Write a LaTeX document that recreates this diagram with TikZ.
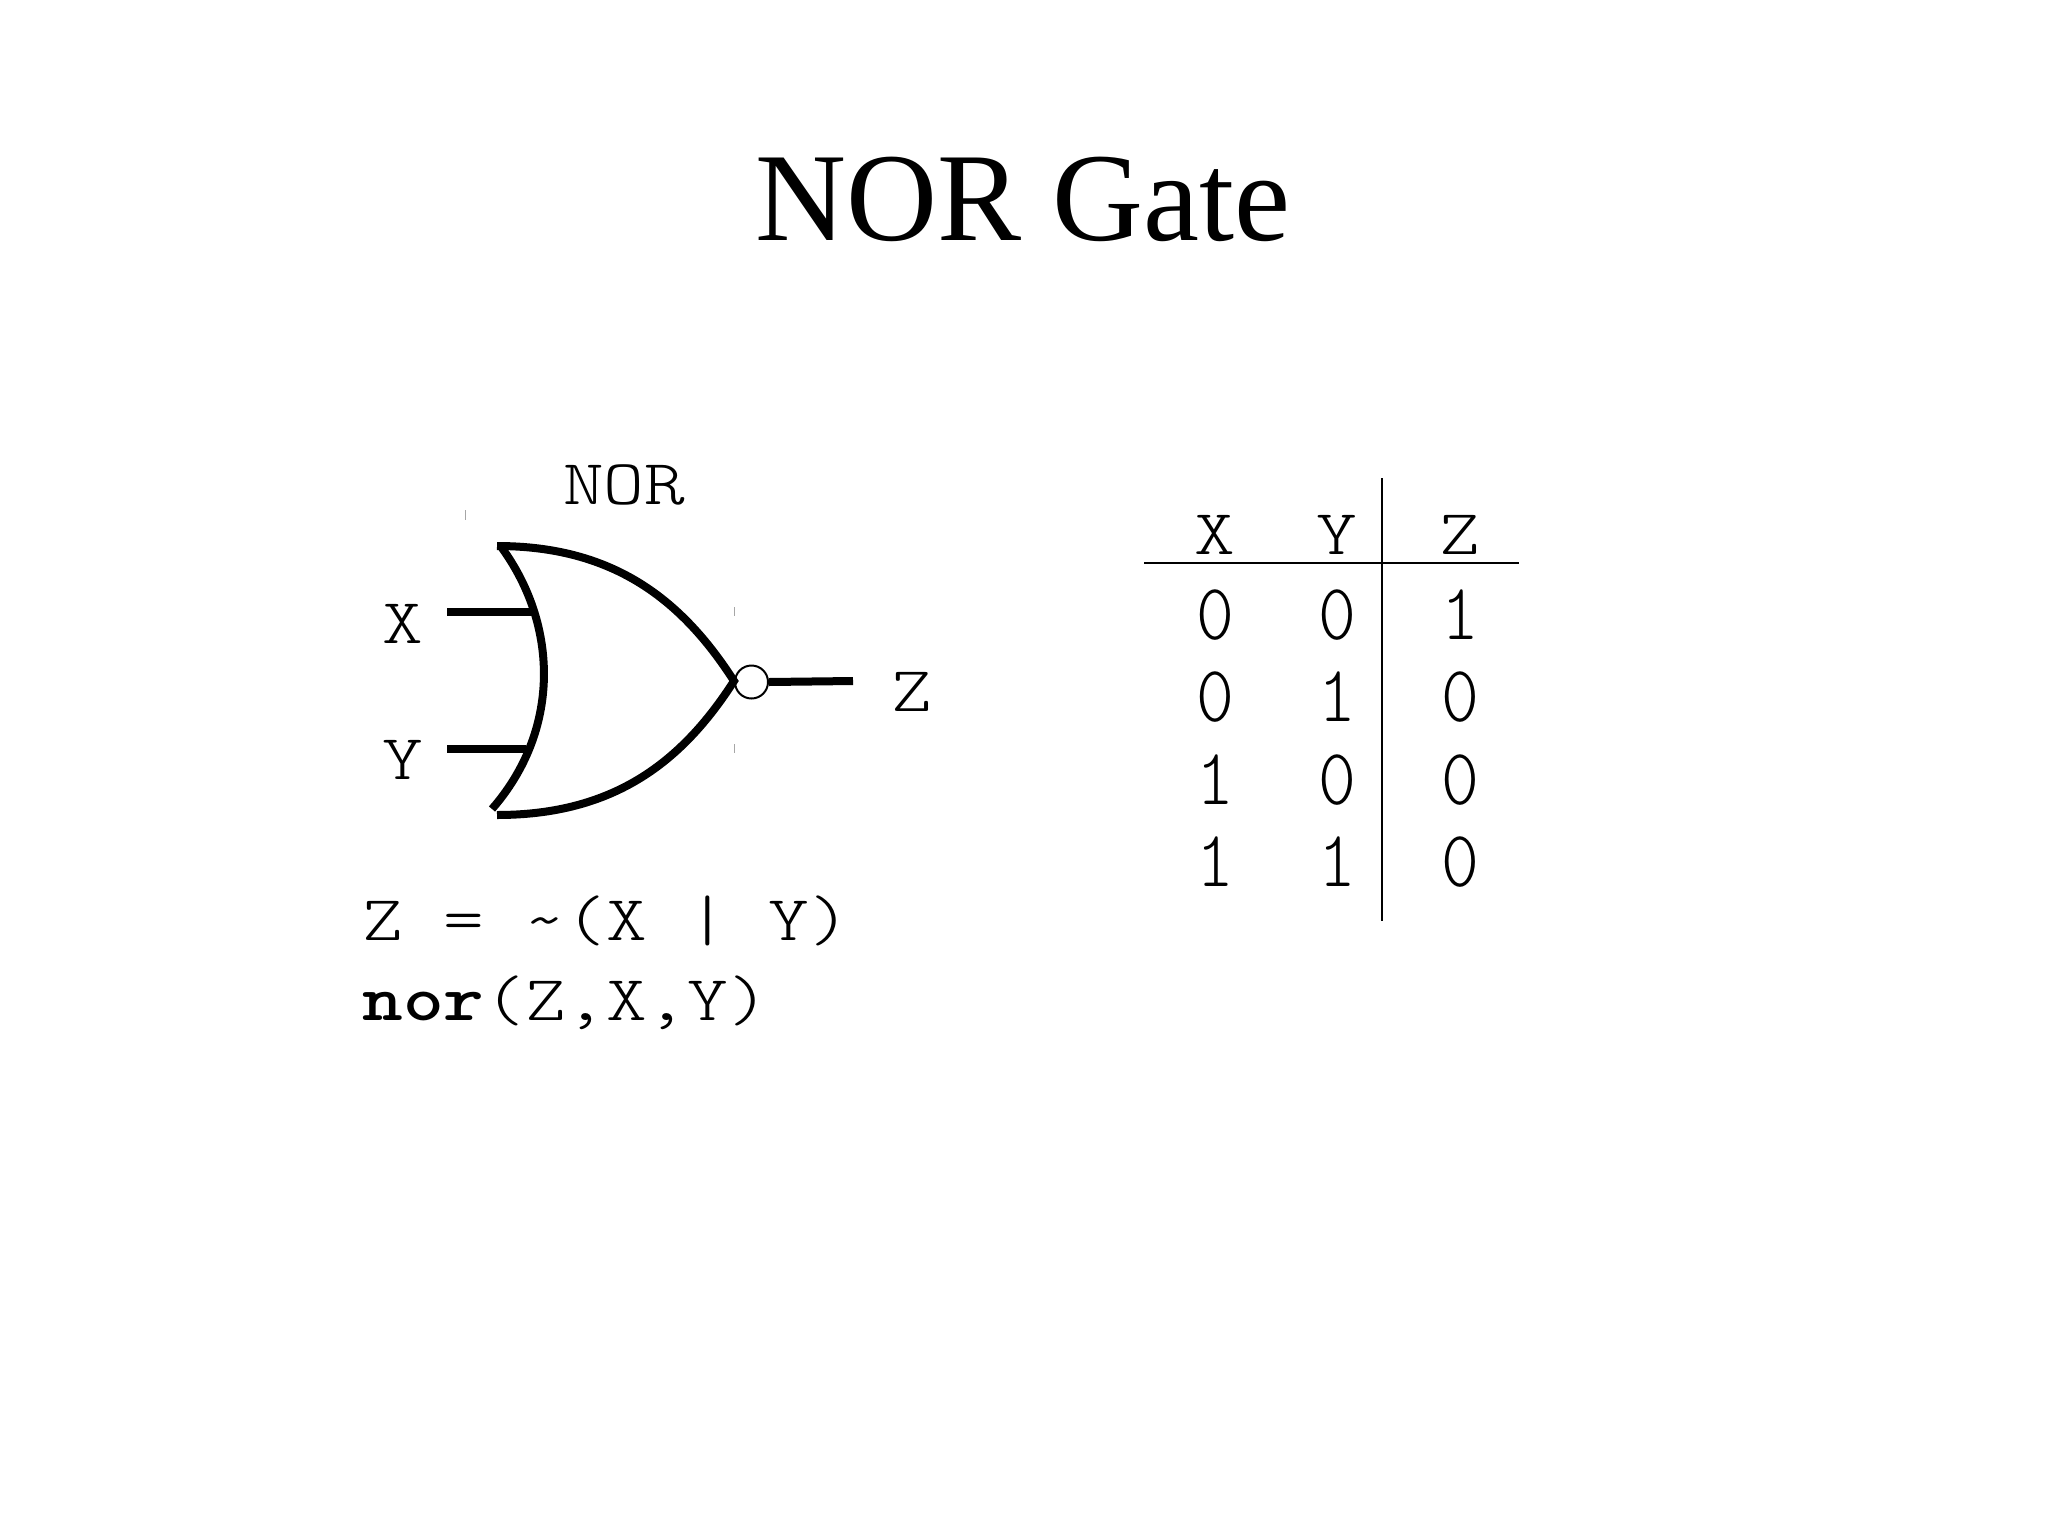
\documentclass[tikz,border=0pt]{standalone}
\usepackage{fontspec}
\setmainfont{Liberation Serif}
\newfontfamily\gatemono[FakeStretch=1.21]{Latin Modern Mono Light}
\newfontfamily\digitmono[FakeStretch=0.9]{Latin Modern Mono Light}
\usetikzlibrary{positioning}

\begin{document}
\begin{tikzpicture}[
  x=0.5pt,y=-0.5pt,
  lbl/.style={inner sep=0pt,font=\gatemono\fontsize{32}{32}\selectfont},
  digit/.style={inner sep=0pt,font=\digitmono\fontsize{40}{40}\selectfont},
  code/.style={lbl,anchor=base west},
  thick wire/.style={line width=4pt},
  rule/.style={line width=1.2pt},
  speck/.style={draw=gray!70,line width=0.4pt}
  ]
  \useasboundingbox (0,0) rectangle (2048,1536);

  \node[inner sep=0pt,anchor=base,font=\fontsize{63}{63}\selectfont] (title) at (1023,240) {NOR Gate};

  % gate
  \node[lbl] (norlabel) at (624,485) {NOR};
  \coordinate (top) at (497,546);
  \coordinate (tip) at (734,681);
  \coordinate (bottom) at (497,815);
  \coordinate (backtop) at (502,548);
  \coordinate (backbottom) at (492,809);
  \draw[thick wire] (top) .. controls (614,546) and (682,600) .. (tip)
    .. controls (682,762) and (614,815) .. (bottom);
  \draw[thick wire] (backtop) .. controls (559,627) and (560,731) .. (backbottom);

  \node[lbl] (x) at (403,624) {X};
  \node[lbl] (y) at (403,760) {Y};
  \node[lbl] (z) at (912,692) {Z};
  \coordinate (xin) at (447,612);
  \coordinate (xend) at (533,612);
  \coordinate (yin) at (447,749);
  \coordinate (yend) at (526,749);
  \coordinate (zout) at (853,681);
  \node[draw,circle,line width=1pt,minimum size=16.5pt,inner sep=0pt] (bubble) at (751.5,682) {};
  \path[thick wire,draw] (xin) -- (xend);
  \path[thick wire,draw] (yin) -- (yend);
  \path[thick wire,draw] (bubble.east) -- (zout);

  \draw[speck] (465,510) -- (465,520);
  \draw[speck] (734,607) -- (734,616);
  \draw[speck] (734,744) -- (734,753);

  \node[code] (expr) at (362,940) {Z\ =\ \string~(X\ |\ Y)};
  \node[code] (call) at (362,1020) {\textbf{nor}(Z,X,Y)};

  % truth table
  \foreach \name/\px in {X/1215,Y/1337,Z/1460}
    \node[lbl] (head\name) at (\px,535) {\name};
  \foreach \py/\a/\b/\c in {615/0/0/1,697/0/1/0,780/1/0/0,862/1/1/0}{
    \node[digit] (a\py) at (1215,\py) {\a};
    \node[digit] (b\py) at (1337,\py) {\b};
    \node[digit] (c\py) at (1460,\py) {\c};
  }
  \coordinate (ruletop) at (1382,478);
  \coordinate (rulebottom) at (1382,921);
  \coordinate (ruleleft) at (1144,563);
  \coordinate (ruleright) at (1519,563);
  \draw[rule] (ruletop) -- (rulebottom);
  \draw[rule] (ruleleft) -- (ruleright);
\end{tikzpicture}
\end{document}
